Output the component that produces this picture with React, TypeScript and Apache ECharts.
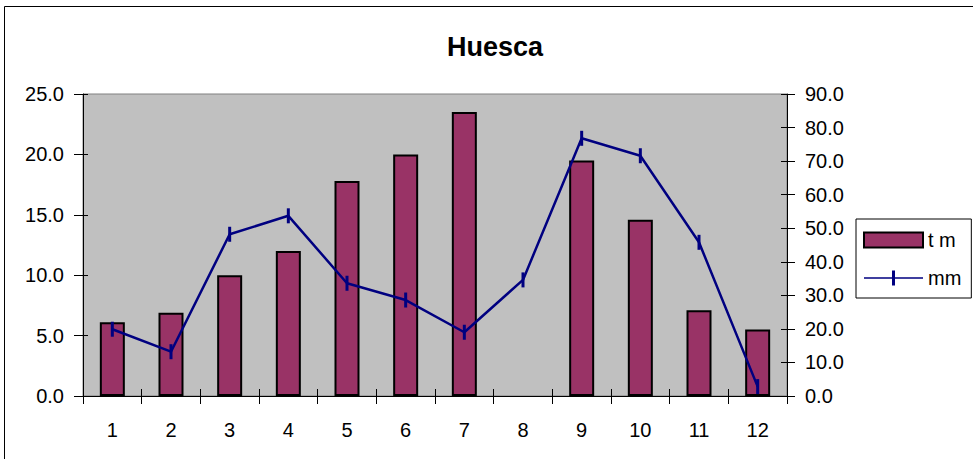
import React, { useEffect, useRef } from "react";
import * as echarts from "echarts";

const months = ["1", "2", "3", "4", "5", "6", "7", "8", "9", "10", "11", "12"];
const tempValues = [6.1, 6.9, 10.0, 12.0, 17.8, 20.0, 23.5, null, 19.5, 14.6, 7.1, 5.5];
const rainValues = [19.9, 13.2, 48.2, 53.7, 33.6, 28.6, 19.0, 34.6, 76.8, 71.6, 45.8, 2.8];
const seriesNames = ["t m", "mm"];
const titleText = "Huesca";

const FONT = "'Liberation Sans', Arial, sans-serif";
const lineLegendIcon = "path://M0 8H59V10H0Z M28 0H31V18H28Z";

export default function App() {
  const ref = useRef<HTMLDivElement>(null);
  useEffect(() => {
    if (!ref.current) return;
    const chart = echarts.init(ref.current, null, { renderer: "svg" });
    const fmt = (v: number) => v.toFixed(1);
    const labelStyle = { color: "#000", fontSize: 20, fontFamily: FONT };
    const axisLine = { show: true, lineStyle: { color: "#000", width: 1 } };
    chart.setOption({
      animation: false,
      backgroundColor: "#fff",
      textStyle: { fontFamily: FONT },
      title: {
        text: titleText,
        left: 442,
        top: 28,
        textStyle: { fontSize: 27, fontWeight: "bold", color: "#000", fontFamily: FONT },
      },
      legend: {
        left: 856,
        top: 219,
        orient: "vertical",
        padding: [11, 10, 10, 7],
        itemWidth: 59,
        itemHeight: 15,
        itemGap: 18,
        borderColor: "#000",
        borderWidth: 1,
        backgroundColor: "#fff",
        borderRadius: 0,
        symbolKeepAspect: false,
        textStyle: { fontSize: 20, color: "#000", fontFamily: FONT },
        data: [
          { name: seriesNames[0], icon: "rect" },
          {
            name: seriesNames[1],
            icon: lineLegendIcon,
            itemStyle: { color: "#000080", borderWidth: 0 },
          },
        ],
      },
      grid: {
        left: 83,
        right: 186,
        top: 94,
        bottom: 63,
        show: true,
        backgroundColor: "#C0C0C0",
        borderColor: "#808080",
        borderWidth: 1,
      },
      xAxis: [
        {
          type: "category",
          data: months,
          position: "bottom",
          boundaryGap: true,
          axisLine,
          axisTick: { show: true, inside: false, length: 8, lineStyle: { color: "#000" } },
          axisLabel: { ...labelStyle, margin: 24 },
          splitLine: { show: false },
        },
        {
          type: "category",
          data: months,
          position: "bottom",
          boundaryGap: true,
          axisLine: { show: false },
          axisTick: { show: true, inside: true, length: 7, lineStyle: { color: "#000" } },
          axisLabel: { show: false },
          splitLine: { show: false },
        },
      ],
      yAxis: [
        {
          type: "value",
          min: 0,
          max: 25,
          interval: 5,
          position: "left",
          axisLine,
          axisTick: { show: true, inside: false, length: 9, lineStyle: { color: "#000" } },
          axisLabel: { ...labelStyle, margin: 19, formatter: fmt },
          splitLine: { show: false },
        },
        {
          type: "value",
          min: 0,
          max: 90,
          interval: 10,
          position: "right",
          axisLine,
          axisTick: { show: true, inside: false, length: 8, lineStyle: { color: "#000" } },
          axisLabel: { ...labelStyle, margin: 18, formatter: fmt },
          splitLine: { show: false },
        },
        {
          type: "value",
          min: 0,
          max: 25,
          interval: 5,
          position: "left",
          axisLine: { show: false },
          axisTick: { show: true, inside: true, length: 5, lineStyle: { color: "#000" } },
          axisLabel: { show: false },
          splitLine: { show: false },
        },
        {
          type: "value",
          min: 0,
          max: 90,
          interval: 10,
          position: "right",
          axisLine: { show: false },
          axisTick: { show: true, inside: true, length: 6, lineStyle: { color: "#000" } },
          axisLabel: { show: false },
          splitLine: { show: false },
        },
      ],
      series: [
        {
          name: seriesNames[0],
          type: "bar",
          xAxisIndex: 0,
          yAxisIndex: 0,
          data: tempValues,
          barWidth: 25,
          itemStyle: { color: "#993366", borderColor: "#000", borderWidth: 2 },
        },
        {
          name: seriesNames[1],
          type: "line",
          xAxisIndex: 0,
          yAxisIndex: 1,
          data: rainValues,
          symbol: "rect",
          symbolSize: [3, 15],
          showSymbol: true,
          lineStyle: { color: "#000080", width: 2.5 },
          itemStyle: { color: "#000080", borderWidth: 0 },
          z: 5,
        },
      ],
      graphic: [
        {
          type: "polyline",
          shape: { points: [[4.5, 459], [4.5, 6.5], [973, 6.5]] },
          style: { stroke: "#000", lineWidth: 1, fill: "none" },
          silent: true,
        },
      ],
    });
    return () => chart.dispose();
  }, []);
  return (
    <div
      ref={ref}
      style={{ position: "fixed", left: 0, top: 0, width: 973, height: 459 }}
    />
  );
}
